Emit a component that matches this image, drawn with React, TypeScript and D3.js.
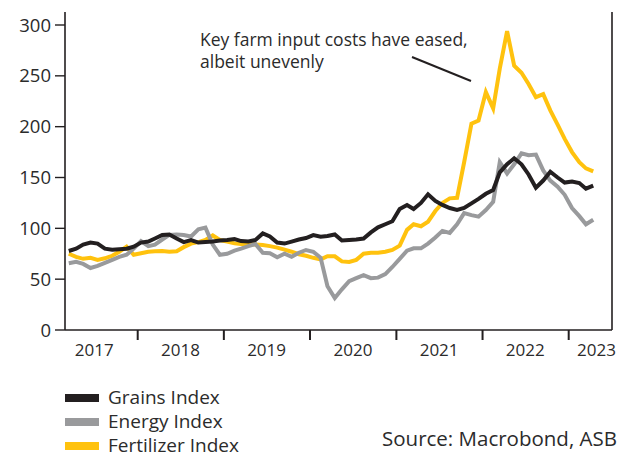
import React from "react";
import * as d3 from "d3";

// Monthly observations, mid-month, starting March 2017
const START_YEAR = 2017;
const START_MONTH = 2; // 0-based: March

const grains = [
  77.7, 80, 84, 86, 85, 80, 79, 79.5, 80, 82,
  86, 87, 90, 93.5, 94, 90, 86.5, 88.5, 86, 86.5,
  87, 88, 88.5, 89.5, 87.5, 87, 88.5, 95, 92, 86,
  85, 87, 89, 90.5, 93.4, 91.8, 92.5, 94, 88, 88.5,
  89, 90, 96, 101, 104, 107, 119, 123, 119, 125,
  133.5, 127, 123, 120, 118, 120, 124.6, 129, 134, 137.7,
  155, 163, 168.9, 163, 153, 140, 147, 155.7, 150, 145,
  146, 144.5, 139, 142,
];

const energy = [
  65.6, 67, 65, 61, 63, 66, 69, 72, 74, 80,
  87.5, 82.5, 84, 89, 93.5, 94, 93.4, 92, 99, 100.7,
  84, 74, 75, 78, 80, 82.5, 84.5, 76, 75.5, 71.5,
  75, 72, 76, 78.7, 77, 71, 43, 31.5, 40, 48,
  51, 54, 51, 51.5, 55, 62, 70, 78, 80.3, 80.3,
  85, 91, 97.5, 95.5, 104, 115, 113, 111.5, 118, 126,
  165, 154, 163, 173.8, 172, 172.5, 157, 147, 141, 133,
  120, 112, 104, 108.5,
];

const fertilizer = [
  75, 72, 70, 71, 69, 70.5, 73, 77, 82, 74,
  75.5, 77, 77.5, 77.7, 77, 77.5, 81.5, 85, 86.5, 88.5,
  93, 88.5, 87, 85.2, 84.5, 84.3, 84, 83.5, 82.5, 81,
  79, 77, 74.5, 73, 71, 69.5, 72.5, 72.5, 67.5, 67,
  69, 75, 76, 76, 77, 78.7, 83, 98.5, 104, 102,
  106.5, 117, 125, 129.5, 130, 165, 203, 206, 234, 218,
  257, 294, 260, 253, 242, 229, 232, 216, 202, 188,
  175, 165, 159, 156,
];

const yTicks = [0, 50, 100, 150, 200, 250, 300];
const years = [2017, 2018, 2019, 2020, 2021, 2022, 2023];
const seriesNames = ["Grains Index", "Energy Index", "Fertilizer Index"];
const seriesColors = ["#231f20", "#999a9c", "#ffc20e"];
const annotationLines = ["Key farm input costs have eased,", "albeit unevenly"];
const sourceText = "Source: Macrobond, ASB";

const W = 632;
const H = 453;
const FONT = "'Open Sans', 'Liberation Sans', sans-serif";
const TEXT = "#2b2b2b";

export default function App() {
  const left = 65;
  const right = 612;
  const top = 12;
  const bottom = 330;

  const x = d3
    .scaleUtc()
    .domain([new Date(Date.UTC(2017, 0, 1)), new Date(Date.UTC(2023, 0, 1))])
    .range([51.55, 568.7]);
  const y = d3.scaleLinear().domain([0, 300]).range([bottom, 25]);

  const dates = grains.map((_, i) => new Date(Date.UTC(START_YEAR, START_MONTH + i, 15)));
  const line = d3
    .line<number>()
    .x((_, i) => x(dates[i]))
    .y((d) => y(d));

  const series = [grains, energy, fertilizer];
  const drawOrder = [2, 1, 0];

  const yearTicks = years.slice(1).map((yr) => new Date(Date.UTC(yr, 0, 1)));

  return (
    <svg
      width={W}
      height={H}
      style={{ position: "absolute", left: 0, top: 0, background: "#fff" }}
      fontFamily={FONT}
    >
      <rect x={0} y={0} width={W} height={H} fill="#fff" />
      {/* frame */}
      <line x1={left} x2={left} y1={top} y2={bottom} stroke="#231f20" strokeWidth={1.6} />
      <line x1={right} x2={right} y1={top} y2={bottom} stroke="#231f20" strokeWidth={1.6} />
      <line x1={left} x2={right} y1={bottom} y2={bottom} stroke="#231f20" strokeWidth={1.6} />

      {/* y ticks */}
      {yTicks.map((t) => (
        <g key={t}>
          <line x1={55} x2={left} y1={y(t)} y2={y(t)} stroke="#231f20" strokeWidth={1.4} />
          <text x={51} y={y(t)} dy="0.36em" textAnchor="end" fontSize={18.5} fill={TEXT}>
            {t}
          </text>
        </g>
      ))}

      {/* x ticks */}
      {yearTicks.map((d, i) => (
        <line key={i} x1={x(d)} x2={x(d)} y1={bottom} y2={bottom + 10} stroke="#231f20" strokeWidth={2} />
      ))}
      {years.map((yr, i) => {
        const mid = x(new Date(Date.UTC(yr, 6, 1)));
        const isLast = i === years.length - 1;
        return (
          <text
            key={yr}
            x={isLast ? right + 4 : mid}
            y={356}
            textAnchor={isLast ? "end" : "middle"}
            fontSize={17}
            fill={TEXT}
          >
            {yr}
          </text>
        );
      })}

      {/* series */}
      {drawOrder.map((si) => (
        <path
          key={si}
          d={line(series[si]) || ""}
          fill="none"
          stroke={seriesColors[si]}
          strokeWidth={4}
          strokeLinejoin="miter"
          strokeMiterlimit={4}
        />
      ))}

      {/* annotation */}
      {annotationLines.map((t, i) => (
        <text key={i} x={200} y={46 + i * 22} fontSize={17.5} fill={TEXT}>
          {t}
        </text>
      ))}
      <line x1={412} y1={57} x2={471} y2={81} stroke="#231f20" strokeWidth={2} />

      {/* legend */}
      {seriesNames.map((n, i) => {
        const by = 404 + i * 24;
        return (
          <g key={n}>
            <rect x={65} y={by - 10} width={34} height={8} fill={seriesColors[i]} />
            <text x={108} y={by} fontSize={19} fill={TEXT}>
              {n}
            </text>
          </g>
        );
      })}

      <text x={617} y={446} textAnchor="end" fontSize={20.5} fill={TEXT}>
        {sourceText}
      </text>
    </svg>
  );
}
